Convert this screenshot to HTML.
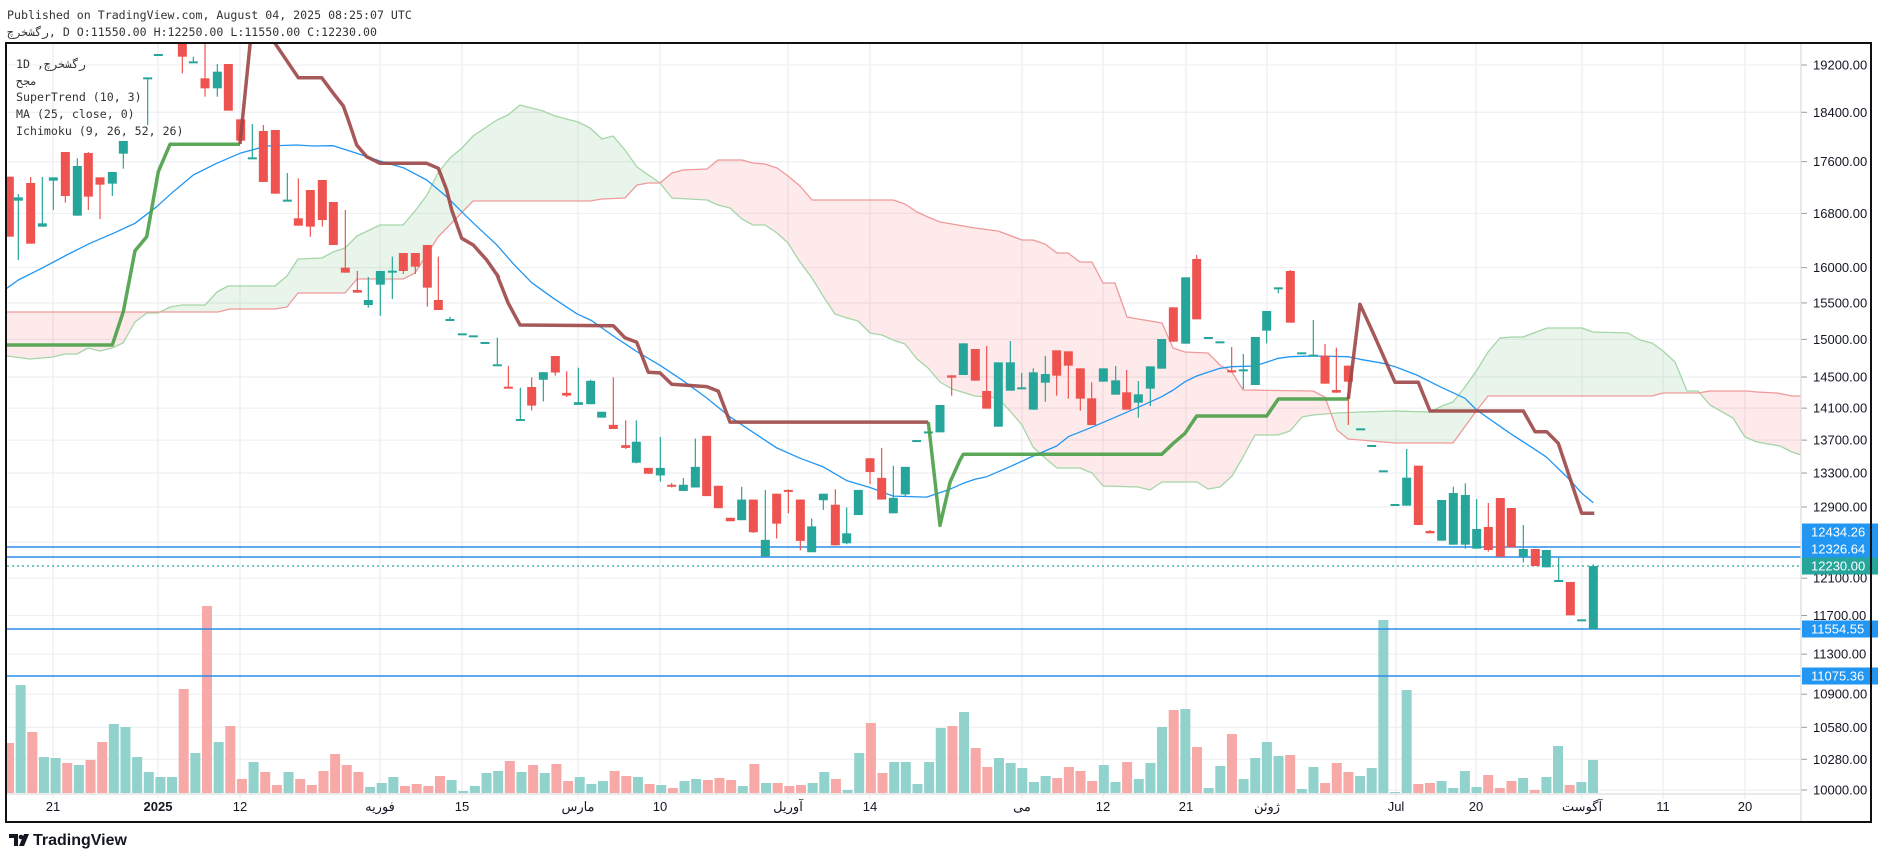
<!DOCTYPE html>
<html><head><meta charset="utf-8">
<style>
html,body{margin:0;padding:0;background:#fff;width:1878px;height:858px;overflow:hidden;}
svg{display:block;}
text{font-family:"Liberation Sans","Noto Sans CJK SC",sans-serif;}
text.mono,.mono text{font-family:"DejaVu Sans Mono","Liberation Mono","Noto Sans CJK SC",monospace;}
</style></head>
<body>
<svg id="s" width="1878" height="858" xmlns="http://www.w3.org/2000/svg">
<defs><clipPath id="cp"><rect x="7" y="44" width="1794" height="749"/></clipPath></defs>
<g id="grid"></g>
<g id="vol" clip-path="url(#cp)"></g>
<g id="cloud" clip-path="url(#cp)"></g>
<g id="lines" clip-path="url(#cp)"></g>
<g id="candles" clip-path="url(#cp)"></g>
<g id="st" clip-path="url(#cp)"></g>
<g id="axis"></g>
<text class="mono" x="7" y="19" font-size="11.6" fill="#333">Published on TradingView.com, August 04, 2025 08:25:07 UTC</text>
<text class="mono" x="7" y="36" font-size="11.6" fill="#333">&#x200E;رگشخرچ&#x200E;, D O:11550.00 H:12250.00 L:11550.00 C:12230.00</text>
<g class="mono" font-size="11.6" fill="#333">
<text x="16" y="68">1D ,&#x200E;رگشخرچ</text>
<text x="16" y="85">مجح</text>
<text x="16" y="101">SuperTrend (10, 3)</text>
<text x="16" y="118">MA (25, close, 0)</text>
<text x="16" y="135">Ichimoku (9, 26, 52, 26)</text>
</g>
<rect x="6" y="43" width="1865" height="779" fill="none" stroke="#111" stroke-width="2"/>
<g transform="translate(9,832)">
<path d="M0 2h9v12h-4v-8h-5z M10 14l5-12h5l-5 12z" fill="#131722"/>
<circle cx="12" cy="5" r="2.3" fill="#131722"/>
<text x="24" y="13" font-size="16" font-weight="bold" fill="#131722">TradingView</text>
</g>
</svg>
<script>
const NS="http://www.w3.org/2000/svg";
function el(p,t,a,txt){const e=document.createElementNS(NS,t);for(const k in a)e.setAttribute(k,a[k]);if(txt!==undefined)e.textContent=txt;document.getElementById(p).appendChild(e);return e;}
function yP(p){return 65+Math.log(19200/p)*1111.4;}
const prices=[19200,18400,17600,16800,16000,15500,15000,14500,14100,13700,13300,12900,12500,12100,11700,11300,10900,10580,10280,10000];
prices.forEach(p=>{const y=yP(p);el('grid','line',{x1:7,x2:1801,y1:y,y2:y,stroke:'#f0f1f4','stroke-width':1.3});
 el('axis','line',{x1:1801,x2:1807,y1:y,y2:y,stroke:'#999'});
 if(p!==12500)el('axis','text',{x:1813,y:y+4.5,'font-size':13,fill:'#131722'},p.toFixed(2));});
const vts=[[53,'21'],[158,'2025'],[240,'12'],[380,'فوریه'],[462,'15'],[578,'مارس'],[660,'10'],[788,'آوریل'],[870,'14'],[1022,'می'],[1103,'12'],[1186,'21'],[1267,'ژوئن'],[1396,'Jul'],[1476,'20'],[1582,'آگوست'],[1663,'11'],[1745,'20']];
vts.forEach(([x,t])=>{el('grid','line',{x1:x,x2:x,y1:44,y2:799,stroke:'#eeeff2','stroke-width':1.3});
 const a={x:x,y:811,'font-size':13,fill:'#131722','text-anchor':'middle'};if(t==='2025')a['font-weight']='bold';el('axis','text',a,t);});
el('axis','line',{x1:1801,x2:1801,y1:44,y2:821,stroke:'#ddd','stroke-width':1.3});
el('axis','line',{x1:7,x2:1801,y1:794,y2:794,stroke:'#ddd','stroke-width':1.3});
const V=[
[590,3,'r459 g285 r426 g501 g504 r519 g525 r510 r456 g402 g411 g501 g546 g561 g561 r297 g489 r48 g456 r408 r567 g516 r546 r585 g546 r567 r585 r543 r492 r525 r546 g591 g579 g561 r588 r582 r588 r558 g570 g603 g588 g549 g543 r513 g546 r525 g549 r522'],
[590,3,'r573 g561 g582 g573 r543 r558 g561 r582 g585 r594 g573 g567 r570 r564 r570 g588 r522 g579 r579 r588 r585 g579 g546 r567 g600 g489 r399 r549 g516 g516 g582 g516 g414 r408 g366 r474 r531 g504 g519 g534 g576 g558 r564 r531 r543 r573 g525'],
[640,3,'g426 r366 g417 g369 g261 r210 g207 r321 g444 g378 r282 g417 g354 g306 g348 r345 g447 g381 r429 r369 r396 g408 g384 gX g456 g150 r432 r429 g423 g444 g393 g441 r405 r444 r423 g414 r450 g411 g318 r435 g426']];
let vb=[];V.forEach(([oy,s,str])=>str.split(' ').forEach(t=>{const c=t[0];let y=t.slice(1)==='X'?620:oy+(+t.slice(1))/s;vb.push([c,y]);}));
vb.push(['g',760]);
const n=vb.length,sp=(1593-9)/(n-1);
vb.forEach(([c,y],i)=>{const x=9+i*sp;el('vol','rect',{x:x-5,y:y,width:10,height:Math.max(793-y,1),fill:c==='g'?'#92d2cc':'#f7a9a7'});});
function tf(o,arr){return arr.map(p=>[o[0]+p[0]/o[2],o[1]+p[1]/o[3]]);}
function interp(pts,x){if(x<pts[0][0]||x>pts[pts.length-1][0])return null;for(let i=1;i<pts.length;i++){if(x<=pts[i][0]){const a=pts[i-1],b=pts[i];const t=(b[0]-a[0])?(x-a[0])/(b[0]-a[0]):0;return a[1]+t*(b[1]-a[1]);}}return null;}
function pl(g,pts,st,w,op){el(g,'polyline',{points:pts.map(p=>p[0].toFixed(1)+','+p[1].toFixed(1)).join(' '),fill:'none',stroke:st,'stroke-width':w,'stroke-opacity':op||1,'stroke-linejoin':'round'});}
const B=[[7,312],[218,312],[230,309],[275,309],[287,307],[298,293],[345,293],[357,279],[403,279],[415,273],[438,237],[473,201],[500,201],[590,201],[602,199],[625,198],[637,185],[648,183],[660,183],[672,173],[683,170],[707,169],[718,160],[742,160],[753,163],[765,164],[777,168],[788,176],[800,186],[812,200],[893,200],[905,204],[917,212],[928,217],[940,222],[952,224],[975,228],[998,231],[1022,240],[1033,240],[1045,244],[1057,253],[1068,253],[1080,262],[1092,262],[1103,283],[1115,283],[1127,317],[1138,319],[1162,323],[1173,348],[1185,352],[1208,353],[1220,365],[1232,372],[1243,390],[1313,391],[1325,397],[1337,430],[1348,439],[1360,440],[1395,443],[1440,443],[1453,443],[1477,410],[1488,396],[1652,396],[1663,393],[1698,393],[1710,391],[1747,391],[1757,392],[1777,393],[1792,396],[1801,396]];
const A=[[7,356],[30,359],[53,357],[65,354],[77,354],[88,348],[100,351],[112,348],[123,343],[135,322],[147,313],[158,313],[170,307],[182,305],[205,305],[217,292],[228,286],[275,286],[287,276],[298,259],[322,258],[333,252],[345,248],[357,236],[380,225],[403,225],[415,211],[427,195],[438,173],[450,158],[462,148],[473,136],[497,120],[508,115],[520,105],[543,111],[555,116],[578,122],[590,128],[602,139],[613,136],[625,150],[637,167],[660,183],[672,198],[707,200],[718,205],[730,208],[742,219],[753,225],[765,225],[777,233],[788,243],[800,262],[812,278],[823,296],[835,314],[847,318],[858,321],[870,333],[882,335],[893,340],[905,344],[917,359],[928,368],[940,382],[952,389],[975,396],[998,398],[1010,411],[1022,425],[1033,447],[1045,458],[1057,468],[1080,468],[1092,473],[1103,486],[1138,487],[1150,490],[1162,482],[1197,482],[1208,489],[1220,487],[1232,476],[1243,457],[1255,435],[1278,435],[1290,431],[1302,417],[1313,415],[1337,413],[1360,412],[1395,411],[1430,412],[1442,406],[1453,402],[1465,387],[1477,370],[1488,352],[1500,338],[1512,337],[1523,337],[1547,328],[1582,328],[1593,332],[1628,333],[1640,340],[1652,343],[1663,351],[1675,362],[1687,391],[1698,391],[1710,405],[1733,418],[1745,437],[1757,442],[1780,446],[1792,452],[1801,455]];
(function(){let run=[],sign=null;function flush(){if(run.length<2)return;const pts=run.map(r=>r[0]+','+r[1]).concat(run.slice().reverse().map(r=>r[0]+','+r[2]));el('cloud','polygon',{points:pts.join(' '),fill:sign?'rgba(76,175,80,0.12)':'rgba(242,54,69,0.11)'});}
for(let x=7;x<=1801;x+=1){const a=interp(A,x),b=interp(B,x);if(a==null||b==null)continue;const s=a<b;if(sign!==null&&s!==sign){run.push([x,a,b]);flush();run=[run[run.length-1]];}sign=s;run.push([x,a,b]);}flush();})();
pl('cloud',A,'#a5d6a7',1.3);pl('cloud',B,'#ef9a9a',1.3);
let ma=[].concat(
tf([0,120,3,3],[[20,505],[55,480],[125,445],[200,405],[270,370],[340,340],[405,310],[470,260],[520,215],[580,165],[650,130],[720,100],[800,78],[890,75],[940,78],[1000,77],[1070,100],[1140,123],[1210,143],[1280,180],[1340,230],[1400,290]]),
tf([480,40,3,2.905],[[0,550],[50,595],[100,650],[155,705],[220,750],[290,795],[335,815],[400,860],[470,905],[540,945],[610,990],[680,1040],[750,1095],[820,1140],[890,1185],[960,1215],[1030,1240],[1100,1280],[1170,1300],[1240,1325],[1340,1328],[1410,1305]]),
tf([940,200,3,3],[[70,850],[105,838],[140,830],[210,800],[280,768],[350,738],[385,710],[455,682],[525,652],[595,622],[665,590],[700,570],[735,545],[770,528],[840,505],[875,500],[945,498],[1015,475],[1050,470],[1120,468],[1225,470]]),
tf([1300,200,3,3],[[10,469],[145,470],[180,478],[250,490],[285,500],[350,525],[420,560],[495,595],[530,630],[630,700],[700,745],[740,772],[810,840],[845,880],[880,908]]));
ma.sort((a,b)=>a[0]-b[0]);pl('lines',ma,'#2196f3',1.3);
[[547,'#2a8de8'],[557,'#2a8de8'],[629,'#2a8de8'],[676,'#2a8de8']].forEach(([y,c])=>el('lines','line',{x1:7,x2:1801,y1:y,y2:y,stroke:c,'stroke-width':1.4}));
el('lines','line',{x1:7,x2:1801,y1:566,y2:566,stroke:'#26a69a','stroke-width':1.3,'stroke-dasharray':'2,3'});
const C=[
[[0,120,3,3],[[28,170,350,170,350,'r'],[55,232,242,222,420,'g'],[92,189,371,171,371,'r'],[127,310,320,171,320,'g'],[160,172,182,172,270,'g'],[196,96,228,96,248,'r'],[232,138,287,115,287,'g'],[265,99,230,96,270,'r'],[300,172,194,172,297,'r'],[337,156,191,156,228,'g'],[370,63,101,63,146,'g']]],
[[0,0,3,3],[[443,235,235,235,375,'g'],[475,165,165,165,165,'g'],[547,130,170,100,220,'r'],[580,187,187,170,187,'g'],[615,235,265,130,290,'r'],[652,215,265,192,290,'g'],[685,192,332,192,332,'r']]],
[[0,120,3,3],[[722,-2,62,-2,62,'r'],[757,115,115,12,115,'g'],[790,33,186,15,186,'r'],[826,30,221,30,221,'r'],[862,242,242,159,242,'g'],[895,295,317,175,317,'r'],[931,210,320,210,350,'r'],[967,180,300,180,320,'r'],[1000,246,375,246,375,'r'],[1036,443,458,270,458,'r'],[1072,510,518,453,518,'r'],[1105,540,555,471,563,'g'],[1141,453,494,453,587,'g'],[1177,455,455,410,537,'g'],[1210,399,453,399,462,'r'],[1246,399,440,399,462,'r'],[1282,375,503,375,560,'r'],[1315,540,570,410,570,'r'],[1350,600,600,590,600,'g'],[1387,643,643,643,643,'g'],[1420,649,649,649,649,'g'],[1455,669,669,669,669,'g']]],
[[480,40,3,2.905],[[52,945,945,865,945,'g'],[85,1010,1010,947,1010,'r'],[121,1104,1104,1010,1104,'g'],[155,1008,1062,980,1076,'r'],[190,965,987,965,1050,'g'],[226,918,966,918,975,'r'],[260,1025,1033,962,1037,'r'],[295,1052,1060,952,1060,'g'],[332,990,1058,987,1058,'g'],[365,1080,1097,1080,1097,'g'],[400,1118,1130,980,1130,'r'],[437,1177,1185,1105,1188,'r'],[469,1167,1228,1105,1230,'g'],[505,1243,1260,1243,1260,'r'],[541,1243,1265,1153,1283,'g'],[575,1295,1300,1287,1300,'r'],[610,1292,1310,1272,1310,'g'],[646,1240,1300,1158,1300,'g'],[680,1150,1325,1150,1325,'r'],[715,1295,1360,1295,1360,'r'],[751,1388,1398,1388,1398,'r'],[785,1335,1395,1298,1395,'g'],[820,1335,1430,1335,1432,'r'],[856,1452,1500,1307,1500,'g'],[890,1318,1405,1318,1448,'r'],[925,1310,1312,1305,1375,'r'],[961,1335,1455,1335,1483,'r'],[995,1413,1488,1390,1488,'g'],[1030,1318,1337,1318,1365,'g'],[1066,1350,1468,1305,1468,'r'],[1100,1433,1462,1358,1465,'g'],[1135,1307,1380,1307,1380,'g'],[1170,1215,1255,1215,1290,'r'],[1205,1272,1335,1185,1335,'r'],[1240,1330,1375,1237,1375,'g'],[1276,1240,1320,1240,1325,'g'],[1310,1165,1165,1165,1165,'g'],[1345,1140,1140,1140,1140,'g']]],
[[940,200,3,3],[[0,615,697,615,697,'g'],[35,526,533,526,587,'r'],[70,430,525,430,525,'g'],[106,447,542,447,542,'r'],[140,573,626,438,626,'r'],[175,487,680,487,680,'g'],[211,487,572,423,572,'g'],[245,565,565,519,565,'g'],[280,517,629,505,629,'g'],[316,522,548,468,605,'g'],[350,451,527,451,587,'r'],[385,454,497,454,596,'r'],[421,505,596,505,632,'r'],[455,595,675,547,675,'r'],[490,505,545,505,545,'g'],[527,541,584,498,584,'g'],[560,577,629,510,629,'r'],[595,583,608,543,653,'g'],[631,499,566,499,618,'g'],[665,417,506,417,506,'g'],[700,322,425,322,425,'r'],[737,232,431,232,431,'g'],[770,177,358,165,358,'r'],[805,414,414,414,414,'g'],[840,427,427,427,427,'g'],[875,514,518,441,518,'r'],[910,508,514,462,567,'g'],[946,411,555,411,555,'g'],[980,333,392,333,430,'g'],[1015,265,265,265,280,'g'],[1051,213,368,210,368,'r'],[1085,460,460,460,460,'g'],[1120,467,467,360,467,'g'],[1155,467,551,432,551,'r'],[1189,570,578,443,578,'r'],[1225,497,545,497,675,'r'],[1262,688,688,688,688,'g'],[1295,738,738,738,738,'g'],[1330,814,814,814,814,'g'],[1365,915,915,915,915,'g'],[1400,833,917,747,917,'g'],[1435,797,975,797,975,'r']]],
[[1300,200,3,3],[[390,993,1000,990,1000,'r'],[425,900,1022,900,1022,'g'],[460,879,1034,860,1034,'g'],[496,885,1034,850,1046,'g'],[530,987,1046,897,1046,'g'],[565,981,1050,909,1055,'r'],[601,894,1070,894,1070,'r'],[634,924,1042,924,1042,'r'],[670,1047,1070,975,1087,'g'],[706,1047,1098,1047,1098,'r'],[739,1050,1102,1050,1102,'g'],[776,1143,1143,1073,1143,'g'],[811,1146,1246,1146,1246,'r'],[845,1261,1261,1261,1261,'g'],[880,1098,1288,1093,1288,'g']]]];
C.forEach(([o,list])=>list.forEach(c=>{const x=o[0]+c[0]/o[2];let bt=o[1]+c[1]/o[3],bb=o[1]+c[2]/o[3],wt=o[1]+c[3]/o[3],wb=o[1]+c[4]/o[3];const col=c[5]==='g'?'#26a69a':'#ef5350';
 el('candles','line',{x1:x,x2:x,y1:wt,y2:wb,stroke:col,'stroke-width':1.2});
 if(bb-bt<2){bt-=1;bb=bt+2;}
 el('candles','rect',{x:x-4.5,y:bt,width:9,height:bb-bt,fill:col});}));
const G='#4a9f47',R='#9c4746';
pl('st',tf([0,120,3,3],[[20,675],[337,675],[370,575],[405,392],[440,350],[475,155],[510,73],[720,73]]),G,3.5,0.9);
pl('st',[[240,144],[252,25],[270,25]].concat(tf([0,0,3,3],[[825,130],[895,233],[965,233],[1000,280],[1030,318]])).concat(tf([0,120,3,3],[[1045,0],[1070,75],[1100,110],[1140,130],[1280,130],[1315,145],[1340,210],[1355,270],[1385,355],[1420,375],[1460,420],[1495,470]])).concat(tf([480,40,3,2.905],[[50,680],[85,765],[120,828],[400,830],[435,865],[470,878],[505,965],[540,967],[575,1000],[680,1007],[715,1020],[750,1110],[1345,1110]])),R,3.5,0.9);
pl('st',tf([480,40,3,2.905],[[1345,1110],[1380,1410],[1410,1285],[1440,1220]]).concat(tf([940,200,3,3],[[70,763],[665,763],[700,730],[735,700],[770,648],[980,648],[1015,597],[1225,597]])),G,3.5,0.9);
pl('st',tf([940,200,3,3],[[1225,597],[1260,313],[1300,400],[1365,547],[1435,547]]).concat(tf([1300,200,3,3],[[390,633],[670,633],[705,695],[740,695],[775,730],[845,940],[883,940]])),R,3.5,0.9);
[[532,'#2196f3','12434.26'],[549,'#2196f3','12326.64'],[566,'#26a69a','12230.00'],[629,'#2196f3','11554.55'],[676,'#2196f3','11075.36']].forEach(([y,c,t])=>{
 el('axis','rect',{x:1802,y:y-8.5,width:76,height:17,fill:c});
 el('axis','text',{x:1811,y:y+4.5,'font-size':13,fill:'#fff'},t);});
</script>
</body></html>
